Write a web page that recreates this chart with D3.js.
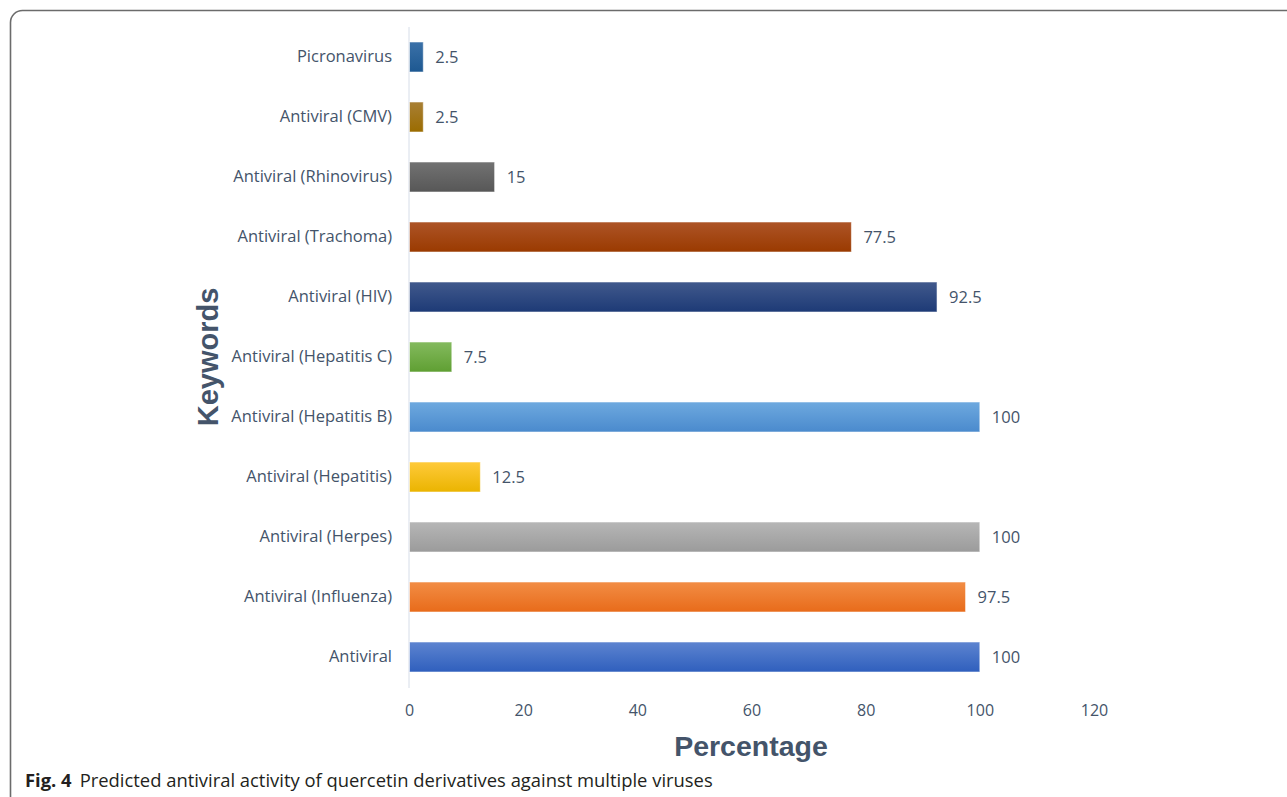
<!DOCTYPE html>
<html>
<head>
<meta charset="utf-8">
<script src="https://cdn.jsdelivr.net/npm/d3@7/dist/d3.min.js"></script>
<style>
  html, body { margin: 0; padding: 0; background: #fff; }
  svg { display: block; }
</style>
</head>
<body>
<svg id="chart" width="1287" height="797"></svg>
<script>
// Keywords, top to bottom as displayed
const categories = [
  "Picronavirus",
  "Antiviral (CMV)",
  "Antiviral (Rhinovirus)",
  "Antiviral (Trachoma)",
  "Antiviral (HIV)",
  "Antiviral (Hepatitis C)",
  "Antiviral (Hepatitis B)",
  "Antiviral (Hepatitis)",
  "Antiviral (Herpes)",
  "Antiviral (Influenza)",
  "Antiviral"
];
const values = [2.5, 2.5, 15, 77.5, 92.5, 7.5, 100, 12.5, 100, 97.5, 100];
const valueLabels = ["2.5", "2.5", "15", "77.5", "92.5", "7.5", "100", "12.5", "100", "97.5", "100"];
const xTicks = [0, 20, 40, 60, 80, 100, 120];
// top / bottom shades of each bar's gradient
const barTop = ["#3b71a8", "#a87f35", "#727272", "#ad5427", "#41598c", "#84ba5e", "#6ea9df", "#ffca3a", "#b6b6b6", "#f28d45", "#5d84d0"];
const barBottom = ["#1d5891", "#9b6c00", "#575757", "#9a3a00", "#1d3a76", "#5f9f32", "#4a8acd", "#eab400", "#9b9b9b", "#e86b1a", "#2f5fbd"];

const svg = d3.select("#chart");
const textColor = "#44546a";
const labelFont = "Open Sans, sans-serif";

// outer rounded frame (right side runs past the page edge)
svg.append("rect")
  .attr("x", 10.5).attr("y", 10.5)
  .attr("width", 1300).attr("height", 800)
  .attr("rx", 12).attr("ry", 12)
  .attr("fill", "none").attr("stroke", "#6b6b6b").attr("stroke-width", 1.6);

const x = d3.scaleLinear().domain([0, 120]).range([409, 1094]);
const y = d3.scaleBand().domain(categories).range([27, 687]).paddingInner(0.5).paddingOuter(0.25);

const defs = svg.append("defs");
categories.forEach((c, i) => {
  const g = defs.append("linearGradient")
    .attr("id", "grad" + i).attr("x1", 0).attr("y1", 0).attr("x2", 0).attr("y2", 1);
  g.append("stop").attr("offset", "0%").attr("stop-color", barTop[i]);
  g.append("stop").attr("offset", "100%").attr("stop-color", barBottom[i]);
});

// vertical axis line
svg.append("line")
  .attr("x1", x(0)).attr("x2", x(0))
  .attr("y1", 27).attr("y2", 688)
  .attr("stroke", "#d6dde8").attr("stroke-width", 1);

// bars
svg.append("g").selectAll("rect")
  .data(values)
  .join("rect")
  .attr("x", x(0) + 0.5)
  .attr("y", (d, i) => y(categories[i]))
  .attr("width", d => x(d) - x(0) - 0.5)
  .attr("height", y.bandwidth())
  .attr("fill", (d, i) => `url(#grad${i})`)
  .attr("stroke", "#ffffff").attr("stroke-opacity", 0.55).attr("stroke-width", 1);

// value labels
svg.append("g").selectAll("text")
  .data(values)
  .join("text")
  .attr("x", d => x(d) + 12)
  .attr("y", (d, i) => y(categories[i]) + y.bandwidth() / 2)
  .attr("dy", "0.36em")
  .attr("font-family", labelFont)
  .attr("font-size", 16.5)
  .attr("fill", textColor)
  .text((d, i) => valueLabels[i]);

// category axis labels
const yAxis = d3.axisLeft(y).tickSize(0).tickPadding(17);
const yg = svg.append("g").attr("transform", `translate(${x(0)},0)`).call(yAxis);
yg.select(".domain").remove();
yg.selectAll("text")
  .attr("font-family", labelFont)
  .attr("font-size", 16.5)
  .attr("fill", textColor);

// value axis tick labels
const xAxis = d3.axisBottom(x).tickValues(xTicks).tickSize(0).tickPadding(0);
const xg = svg.append("g").attr("transform", "translate(0,705)").call(xAxis);
xg.select(".domain").remove();
xg.selectAll("text")
  .attr("font-family", labelFont)
  .attr("font-size", 16)
  .attr("fill", textColor);

// axis titles
svg.append("text")
  .attr("transform", "translate(218,357) rotate(-90)")
  .attr("text-anchor", "middle")
  .attr("font-family", "Liberation Sans, Arial, sans-serif")
  .attr("font-weight", "bold")
  .attr("font-size", 29)
  .attr("fill", textColor)
  .text("Keywords");

svg.append("text")
  .attr("x", 751).attr("y", 756)
  .attr("text-anchor", "middle")
  .attr("font-family", "Liberation Sans, Arial, sans-serif")
  .attr("font-weight", "bold")
  .attr("font-size", 28.5)
  .attr("fill", textColor)
  .text("Percentage");

// figure caption
const cap = svg.append("text")
  .attr("x", 25).attr("y", 787)
  .attr("font-family", labelFont)
  .attr("font-size", 18.4)
  .attr("fill", "#231f20");
cap.append("tspan").attr("font-weight", "bold").text("Fig. 4");
cap.append("tspan").attr("dx", 8).text("Predicted antiviral activity of quercetin derivatives against multiple viruses");
</script>
</body>
</html>
